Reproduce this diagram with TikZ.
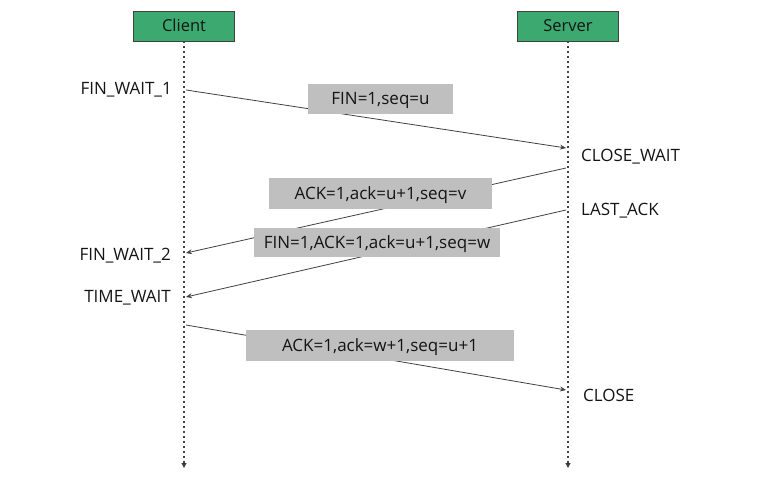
\documentclass[tikz,border=0pt]{standalone}
\usepackage{fontspec}
\setmainfont{Open Sans}
\usetikzlibrary{arrows.meta, positioning}
\definecolor{hostcolor}{RGB}{60, 170, 112}
\definecolor{msgcolor}{RGB}{191, 191, 191}
\definecolor{linecolor}{RGB}{64, 64, 64}
\definecolor{textcolor}{RGB}{20, 20, 20}

\begin{document}
\begin{tikzpicture}[
    x=1pt, y=-1pt,
    every node/.style={text=textcolor, font=\fontsize{17}{20}\selectfont},
    host/.style={rectangle, draw=linecolor, fill=hostcolor, minimum width=101pt, minimum height=30pt, text height=11pt, text depth=0pt, font=\fontsize{16.5}{20}\selectfont},
    msg/.style={rectangle, fill=msgcolor, inner sep=0pt, text height=11pt, text depth=0pt},
    state/.style={inner sep=0pt},
    life/.style={draw=linecolor, line width=1.1pt, dash pattern=on 1.3pt off 3.7pt, -{Triangle[length=5pt, width=5pt]}},
    arr/.style={draw=linecolor, line width=0.8pt, -{Stealth[length=6pt, width=5pt]}}
]
\useasboundingbox (0,0) rectangle (760,479);

% Hosts
\node[host] (client) at (184,26) {Client};
\node[host] (server) at (568,26) {Server};

% Lifelines
\coordinate (cend) at (184,468);
\coordinate (send) at (568,468);
\draw[life] (client.south) -- (cend);
\draw[life] (server.south) -- (send);

% Client states
\node[state, anchor=east] (finwait1) at (172,90) {FIN\_WAIT\_1};
\node[state, anchor=east] (finwait2) at (171,256) {FIN\_WAIT\_2};
\node[state, anchor=east] (timewait) at (171,298) {TIME\_WAIT};

% Server states
\node[state, anchor=west] (closewait) at (581,157) {CLOSE\_WAIT};
\node[state, anchor=west] (lastack) at (581,211) {LAST\_ACK};
\node[state, anchor=west] (close) at (583,395) {CLOSE};

% Message end points
\coordinate (c1) at (186,90);
\coordinate (s1) at (566,148);
\coordinate (s2) at (566,168);
\coordinate (c2) at (186,253);
\coordinate (s3) at (566,210);
\coordinate (c3) at (186,297);
\coordinate (c4) at (186,325);
\coordinate (s4) at (566,390);

% Messages
\draw[arr] (c1) -- (s1);
\draw[arr] (s2) -- (c2);
\draw[arr] (s3) -- (c3);
\draw[arr] (c4) -- (s4);

% Labels
\node[msg, minimum width=145pt, minimum height=30pt] (m1) at (380.5,99) {FIN=1,seq=u};
\node[msg, minimum width=223pt, minimum height=31pt] (m2) at (380.5,193.5) {ACK=1,ack=u+1,seq=v};
\node[msg, minimum width=246pt, minimum height=29pt] (m3) at (377,242.5) {FIN=1,ACK=1,ack=u+1,seq=w};
\node[msg, minimum width=268pt, minimum height=31pt] (m4) at (380,345.5) {ACK=1,ack=w+1,seq=u+1};

\end{tikzpicture}
\end{document}
